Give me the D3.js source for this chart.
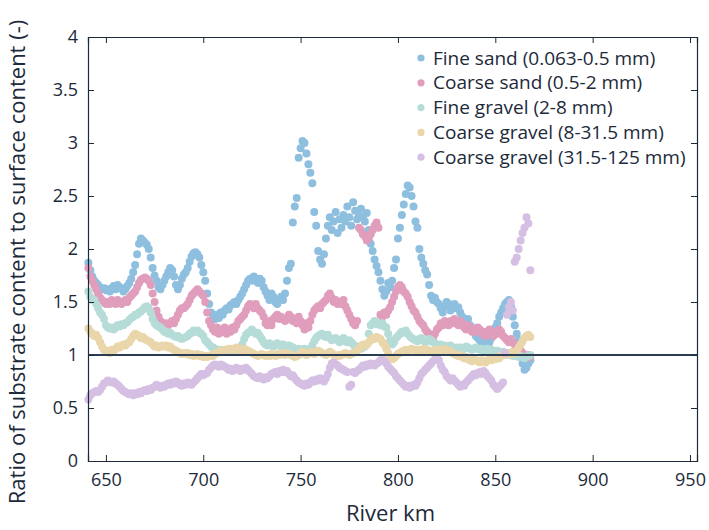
<!DOCTYPE html>
<html>
<head>
<meta charset="utf-8">
<script src="https://cdn.jsdelivr.net/npm/d3@7/dist/d3.min.js"></script>
<style>
  html, body { margin: 0; padding: 0; background: #fff; }
  svg { display: block; font-family: "Open Sans", "Noto Sans", sans-serif; }
</style>
</head>
<body>
<svg id="chart" width="709" height="530"></svg>
<script>
// River kilometre of the first sample; samples follow every 1 km
const firstKm = 641;

const xTicks = [650, 700, 750, 800, 850, 900, 950];
const yTicks = [0, 0.5, 1, 1.5, 2, 2.5, 3, 3.5, 4];

const seriesNames = [
  "Fine sand (0.063-0.5 mm)",
  "Coarse sand (0.5-2 mm)",
  "Fine gravel (2-8 mm)",
  "Coarse gravel (8-31.5 mm)",
  "Coarse gravel (31.5-125 mm)"
];
const seriesColors = ["#8ebfdf", "#e09dbc", "#b6dcd8", "#ead6ab", "#d5bfe3"];

const fineSand = [
  1.87,1.80,1.74,1.70,1.68,1.66,1.64,1.62,1.63,1.61,
  1.62,1.60,1.63,1.65,1.62,1.66,1.64,1.63,1.60,1.62,
  1.65,1.68,1.72,1.78,1.85,1.95,2.05,2.10,2.08,2.06,
  2.04,2.00,1.92,1.82,1.75,1.70,1.64,1.62,1.66,1.70,
  1.74,1.78,1.82,1.80,1.74,1.66,1.62,1.66,1.72,1.76,
  1.78,1.82,1.88,1.93,1.96,1.97,1.95,1.92,1.85,1.78,
  1.70,1.58,1.48,1.40,1.36,1.34,1.38,1.35,1.40,1.38,
  1.42,1.44,1.43,1.47,1.48,1.50,1.48,1.52,1.55,1.58,
  1.62,1.66,1.70,1.72,1.70,1.74,1.72,1.68,1.72,1.70,
  1.64,1.60,1.56,1.52,1.58,1.55,1.50,1.48,1.52,1.55,
  1.52,1.58,1.70,1.82,1.86,2.25,2.40,2.48,2.86,2.95,
  3.02,3.00,2.90,2.80,2.72,2.62,2.35,2.22,1.98,1.90,
  1.86,1.95,2.10,2.22,2.30,2.18,2.26,2.35,2.15,2.28,
  2.20,2.32,2.26,2.40,2.30,2.22,2.44,2.36,2.28,2.32,
  2.38,2.30,2.26,2.34,2.18,2.05,1.98,1.90,1.84,1.78,
  1.70,1.62,1.56,1.60,1.68,1.64,1.70,1.82,1.90,2.10,
  2.20,2.32,2.42,2.52,2.60,2.58,2.50,2.40,2.26,2.20,
  2.00,1.92,1.86,1.80,1.76,1.66,1.56,1.52,1.54,1.50,
  1.48,1.44,1.40,1.46,1.50,1.48,1.42,1.46,1.48,1.44,
  1.45,1.40,1.36,1.32,1.30,1.34,1.28,1.26,1.22,1.18,
  1.16,1.14,1.12,1.14,1.12,1.10,1.12,1.16,1.20,1.26,
  1.30,1.36,1.40,1.44,1.48,1.50,1.52,1.46,1.36,1.28,
  1.20,1.14,1.00,0.92,0.86,0.88,0.92,0.95
];

const coarseSand = [
  1.82,1.74,1.70,1.66,1.62,1.58,1.54,1.52,1.50,1.48,
  1.50,1.48,1.52,1.50,1.48,1.52,1.50,1.48,1.50,1.52,
  1.50,1.54,1.56,1.58,1.60,1.64,1.68,1.71,1.72,1.73,
  1.72,1.70,1.66,1.58,1.50,1.42,1.36,1.32,1.30,1.28,
  1.30,1.28,1.30,1.32,1.30,1.34,1.38,1.42,1.44,1.44,
  1.46,1.48,1.52,1.56,1.58,1.60,1.62,1.60,1.58,1.56,
  1.50,1.40,1.32,1.28,1.24,1.22,1.26,1.20,1.24,1.22,
  1.26,1.20,1.24,1.22,1.26,1.24,1.28,1.32,1.34,1.36,
  1.38,1.42,1.46,1.48,1.46,1.44,1.48,1.44,1.42,1.40,
  1.36,1.30,1.28,1.32,1.28,1.34,1.36,1.38,1.34,1.36,
  1.34,1.32,1.34,1.38,1.36,1.32,1.34,1.30,1.36,1.32,
  1.28,1.24,1.30,1.26,1.32,1.38,1.42,1.44,1.46,1.44,
  1.48,1.50,1.52,1.56,1.58,1.54,1.50,1.52,1.48,1.50,
  1.48,1.52,1.46,1.42,1.38,1.34,1.30,1.28,1.32,2.20,
  2.18,2.14,2.12,2.08,2.10,2.14,2.18,2.22,2.25,2.20,
  1.38,1.36,1.40,1.38,1.42,1.45,1.50,1.55,1.60,1.64,
  1.66,1.64,1.60,1.58,1.55,1.50,1.46,1.42,1.40,1.36,
  1.32,1.30,1.28,1.24,1.22,1.20,1.18,1.16,1.20,1.24,
  1.26,1.30,1.28,1.32,1.30,1.28,1.32,1.30,1.34,1.30,
  1.28,1.32,1.30,1.26,1.24,1.28,1.26,1.22,1.24,1.22,
  1.26,1.24,1.20,1.22,1.18,1.22,1.24,1.20,1.18,1.22,
  1.20,1.24,1.22,1.18,1.16,1.14,1.12,1.15,1.12,1.10,
  1.08,1.06,1.04,1.02,1.00,0.98,1.00,0.98
];

const fineGravel = [
  1.60,1.55,1.52,1.52,1.48,1.44,1.40,1.38,1.34,1.28,
  1.26,1.25,1.26,1.24,1.26,1.28,1.27,1.29,1.28,1.30,
  1.31,1.33,1.35,1.36,1.38,1.38,1.40,1.41,1.43,1.45,
  1.46,1.44,1.40,1.34,1.30,1.28,1.27,1.26,1.24,1.22,
  1.22,1.20,1.21,1.19,1.18,1.17,1.18,1.16,1.15,1.16,
  1.17,1.18,1.20,1.21,1.23,1.22,1.23,1.21,1.20,1.18,
  1.14,1.12,1.10,1.08,1.07,1.06,1.05,1.04,1.05,1.04,
  1.03,1.04,1.05,1.04,1.03,1.04,1.06,1.05,1.07,1.10,
  1.15,1.19,1.21,1.22,1.24,1.22,1.20,1.21,1.18,1.15,
  1.12,1.10,1.09,1.11,1.10,1.08,1.09,1.11,1.10,1.08,
  1.10,1.09,1.07,1.09,1.08,1.07,1.06,1.05,1.06,1.05,
  1.04,1.06,1.05,1.04,1.06,1.09,1.13,1.16,1.18,1.19,
  1.20,1.18,1.17,1.19,1.16,1.14,1.15,1.16,1.14,1.12,
  1.14,1.16,1.13,1.12,1.14,1.12,1.10,1.08,1.07,1.08,
  1.06,1.07,1.08,1.10,1.20,1.28,1.30,1.32,1.29,1.30,
  1.28,1.30,1.27,1.26,1.20,1.14,1.10,1.12,1.16,1.18,
  1.20,1.22,1.21,1.23,1.20,1.18,1.16,1.15,1.14,1.13,
  1.15,1.16,1.14,1.12,1.13,1.15,1.14,1.12,1.11,1.10,
  1.09,1.10,1.08,1.09,1.07,1.08,1.09,1.07,1.06,1.07,
  1.06,1.07,1.05,1.06,1.08,1.07,1.06,1.05,1.06,1.07,
  1.06,1.05,1.06,1.04,1.05,1.06,1.04,1.05,1.04,1.03,
  1.04,1.03,1.02,1.03,1.01,1.02,1.00,1.01,0.99,1.00,
  0.99,0.98,0.99,0.98,0.97,0.98,0.99,1.00
];

const coarseGravelMid = [
  1.25,1.22,1.20,1.18,1.19,1.16,1.12,1.08,1.05,1.03,
  1.04,1.02,1.05,1.04,1.06,1.08,1.07,1.09,1.10,1.09,
  1.11,1.12,1.15,1.18,1.20,1.19,1.18,1.16,1.17,1.15,
  1.14,1.13,1.12,1.10,1.08,1.09,1.07,1.08,1.09,1.08,
  1.09,1.07,1.08,1.06,1.05,1.04,1.03,1.02,1.01,1.02,
  1.01,1.02,1.00,1.01,0.99,1.00,1.01,0.99,1.00,0.98,
  0.99,0.98,0.99,1.00,0.99,1.01,1.02,1.03,1.04,1.03,
  1.05,1.04,1.06,1.05,1.06,1.05,1.07,1.05,1.06,1.04,
  1.06,1.05,1.04,1.03,1.02,1.01,1.00,0.99,1.00,1.01,
  1.00,0.99,1.00,0.99,1.01,1.00,0.99,1.01,1.00,1.01,
  1.02,1.00,1.02,1.01,1.00,0.99,0.98,0.99,1.00,1.02,
  1.03,1.01,1.00,1.02,1.03,1.02,1.01,1.03,1.04,1.03,
  1.02,1.01,1.00,1.02,1.03,1.02,1.00,0.99,1.00,0.99,
  1.00,1.01,1.02,1.01,1.00,1.01,1.02,1.03,1.04,1.06,
  1.08,1.10,1.09,1.10,1.12,1.14,1.16,1.15,1.17,1.16,
  1.15,1.12,1.10,1.06,1.02,0.98,0.96,0.97,0.99,1.01,
  1.02,1.03,1.04,1.05,1.04,1.05,1.06,1.05,1.04,1.05,
  1.04,1.05,1.06,1.04,1.05,1.04,1.03,1.04,1.05,1.04,
  1.05,1.04,1.05,1.06,1.04,1.03,1.04,1.02,1.01,1.00,
  0.99,1.00,0.98,0.97,0.98,0.96,0.95,0.94,0.96,0.95,
  0.94,0.93,0.95,0.94,0.93,0.95,0.96,0.95,0.97,0.96,
  0.98,0.97,0.99,1.00,1.01,1.00,1.02,1.01,1.03,1.02,
  1.04,1.07,1.10,1.13,1.16,1.18,1.19,1.17
];

const coarseGravelLarge = [
  0.58,0.62,0.64,0.65,0.66,0.65,0.67,0.70,0.73,0.74,
  0.76,0.75,0.74,0.75,0.73,0.72,0.70,0.68,0.66,0.65,
  0.64,0.63,0.64,0.62,0.64,0.63,0.65,0.64,0.66,0.67,
  0.66,0.68,0.67,0.69,0.70,0.72,0.70,0.69,0.71,0.70,
  0.72,0.73,0.72,0.74,0.73,0.75,0.74,0.72,0.71,0.73,
  0.72,0.74,0.73,0.72,0.74,0.76,0.78,0.80,0.82,0.81,
  0.82,0.83,0.86,0.88,0.90,0.91,0.90,0.89,0.91,0.90,
  0.89,0.88,0.86,0.87,0.85,0.86,0.88,0.86,0.85,0.87,
  0.86,0.88,0.86,0.84,0.82,0.80,0.79,0.78,0.80,0.78,
  0.77,0.79,0.78,0.80,0.82,0.83,0.84,0.82,0.85,0.84,
  0.86,0.84,0.85,0.82,0.80,0.81,0.78,0.76,0.74,0.73,
  0.72,0.71,0.73,0.72,0.74,0.76,0.75,0.77,0.76,0.78,
  0.77,0.75,0.78,0.82,0.88,0.92,0.93,0.91,0.90,0.88,
  0.87,0.86,0.85,0.84,0.70,0.72,0.84,0.83,0.85,0.86,
  0.88,0.90,0.89,0.91,0.90,0.92,0.91,0.90,0.92,0.93,
  0.95,0.96,0.94,0.92,0.89,0.87,0.85,0.83,0.80,0.78,
  0.76,0.74,0.72,0.70,0.71,0.69,0.70,0.72,0.71,0.74,
  0.78,0.82,0.84,0.86,0.88,0.90,0.92,0.94,0.96,0.97,
  0.95,0.90,0.86,0.84,0.80,0.78,0.76,0.78,0.76,0.74,
  0.72,0.70,0.72,0.71,0.74,0.76,0.78,0.80,0.82,0.81,
  0.83,0.84,0.82,0.85,0.83,0.80,0.78,0.76,0.72,0.70,
  0.68,0.70,0.72,0.74,1.02,1.38,1.45,1.50,1.42,1.88,
  1.92,2.00,2.08,2.15,2.20,2.30,2.24,1.80
];

const seriesValues = [fineSand, coarseSand, fineGravel, coarseGravelMid, coarseGravelLarge];

// ---- layout ----
const svg = d3.select("#chart");
const margin = { left: 88, top: 37, right: 12, bottom: 69 };
const W = 709 - margin.left - margin.right;
const H = 530 - margin.top - margin.bottom;
const ink = "#1c2a3a";

const x = d3.scaleLinear().domain([640.8, 953.6]).range([0, W]);
const y = d3.scaleLinear().domain([0, 4]).range([H, 0]);

const g = svg.append("g").attr("transform", `translate(${margin.left},${margin.top})`);

// points, one group per grain size class
seriesValues.forEach((vals, si) => {
  g.append("g")
    .selectAll("circle")
    .data(vals.map((v, i) => ({ km: firstKm + i, v })))
    .join("circle")
    .attr("cx", d => x(d.km))
    .attr("cy", d => y(d.v))
    .attr("r", 4)
    .attr("fill", seriesColors[si]);
});

// reference line at ratio 1
g.append("line")
  .attr("x1", 0).attr("x2", W)
  .attr("y1", y(1)).attr("y2", y(1))
  .attr("stroke", "#2b3d50").attr("stroke-width", 2);

// axes with inward ticks on all four sides
const styleAxis = sel => {
  sel.select(".domain").attr("stroke", ink).attr("stroke-width", 1.2);
  sel.selectAll(".tick line").attr("stroke", ink).attr("stroke-width", 1);
  sel.selectAll(".tick text").attr("fill", ink).attr("font-size", 18)
     .attr("font-family", "'Open Sans', 'Noto Sans', sans-serif");
};

g.append("g").attr("transform", `translate(0,${H})`)
  .call(d3.axisBottom(x).tickValues(xTicks).tickSize(-6).tickPadding(12).tickFormat(d3.format("d")))
  .call(styleAxis);
g.append("g")
  .call(d3.axisTop(x).tickValues(xTicks).tickSize(-6).tickFormat(""))
  .call(styleAxis);
g.append("g")
  .call(d3.axisLeft(y).tickValues(yTicks).tickSize(-6).tickPadding(10).tickFormat(d => d3.format("")(d)))
  .call(styleAxis);
g.append("g").attr("transform", `translate(${W},0)`)
  .call(d3.axisRight(y).tickValues(yTicks).tickSize(-6).tickFormat(""))
  .call(styleAxis);

// axis titles
svg.append("text")
  .attr("x", margin.left + W / 2 - 2).attr("y", 521)
  .attr("text-anchor", "middle").attr("fill", ink).attr("font-size", 22)
  .text("River km");
svg.append("text")
  .attr("transform", `translate(25,${margin.top + H / 2 + 13}) rotate(-90)`)
  .attr("text-anchor", "middle").attr("fill", ink).attr("font-size", 22)
  .text("Ratio of substrate content to surface content (-)");

// legend
const legend = svg.append("g").attr("transform", "translate(421,58)");
seriesNames.forEach((name, i) => {
  const row = legend.append("g").attr("transform", `translate(0,${i * 24.8})`);
  row.append("circle").attr("r", 3.6).attr("fill", seriesColors[i]);
  row.append("text").attr("x", 12).attr("y", 6.5).attr("fill", ink)
    .attr("font-size", 19).text(name);
});
</script>
</body>
</html>
